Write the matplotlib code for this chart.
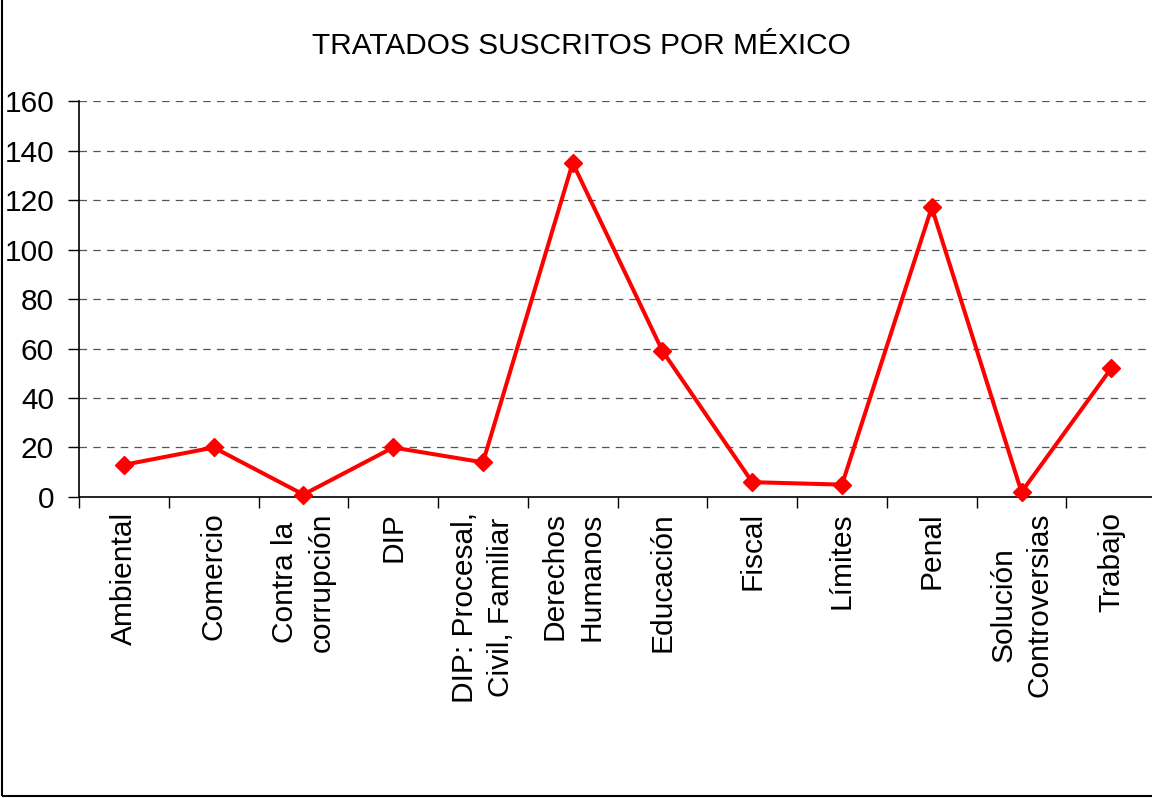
import matplotlib.pyplot as plt
import numpy as np
from matplotlib.patches import Rectangle

plt.rcParams['font.family'] = ['Liberation Sans', 'DejaVu Sans']

categorias = ["Ambiental", "Comercio", "Contra la\ncorrupción", "DIP",
              "DIP: Procesal,\nCivil, Familiar", "Derechos\nHumanos", "Educación",
              "Fiscal", "Límites", "Penal", "Solución\nControversias", "Trabajo"]
tratados = [13, 20, 1, 20, 14, 135, 59, 6, 5, 117, 2, 52]
y_ticks = [0, 20, 40, 60, 80, 100, 120, 140, 160]


def main():
    fig = plt.figure(figsize=(11.52, 7.98), dpi=100)
    ax = fig.add_axes([0.0686, 0.3772, 0.935, 0.4962])

    x = np.arange(len(categorias))
    ax.plot(x, tratados, color="#ff0000", lw=2.9, marker="D", markersize=9,
            clip_on=False, zorder=3)

    ax.set_xlim(-0.5, len(categorias) - 0.5)
    ax.set_ylim(0, 160)
    ax.set_yticks(y_ticks)
    ax.yaxis.grid(True, linestyle=(0, (6, 5)), color="#555555", lw=0.9)
    ax.set_axisbelow(True)

    ax.set_xticks(x)
    ax.set_xticklabels(categorias, rotation=90, fontsize=21.5, va="top",
                       ha="center", linespacing=1.4)
    ax.set_xticks(np.arange(len(categorias) + 1) - 0.5, minor=True)
    ax.tick_params(axis="x", which="major", length=0, pad=11)
    ax.tick_params(axis="x", which="minor", length=8, width=1, color="black")
    ax.tick_params(axis="y", labelsize=21.5, length=8, width=1, pad=10)

    for s in ["top", "right"]:
        ax.spines[s].set_visible(False)
    ax.spines["left"].set_linewidth(1.2)
    ax.spines["bottom"].set_linewidth(1.2)

    fig.text(0.505, 0.942, "TRATADOS SUSCRITOS POR MÉXICO", ha="center",
             va="center", fontsize=21.5)

    fig.patches.append(Rectangle((0.002, 0.002), 1.2, 1.2, transform=fig.transFigure,
                                 fill=False, edgecolor="black", lw=1.5))

    fig.savefig("out.png", dpi=100)


if __name__ == "__main__":
    main()
